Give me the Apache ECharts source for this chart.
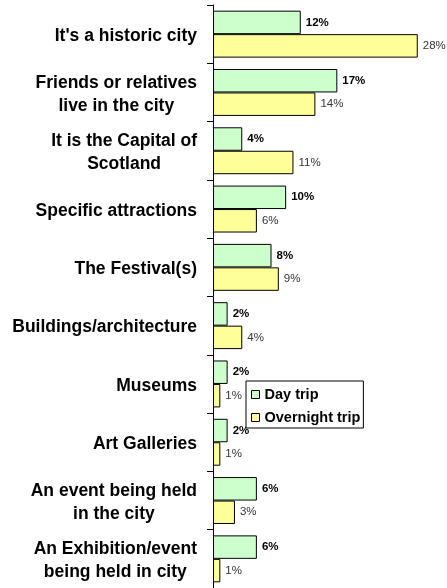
<!DOCTYPE html>
<html>
<head>
<meta charset="utf-8">
<script src="https://cdn.jsdelivr.net/npm/echarts@6/dist/echarts.min.js"></script>
<style>html,body{margin:0;padding:0;background:#fff;}#c{width:447px;height:588px;}</style>
</head>
<body>
<div id="c"></div>
<script>
const categories = [
  "It's a historic city",
  "Friends or relatives\nlive in the city",
  "It is the Capital of\nScotland",
  "Specific attractions",
  "The Festival(s)",
  "Buildings/architecture",
  "Museums",
  "Art Galleries",
  "An event being held\nin the city",
  "An Exhibition/event\nbeing held in city"
];
const dayTrip = [12, 17, 4, 10, 8, 2, 2, 2, 6, 6];
const overnightTrip = [28, 14, 11, 6, 9, 4, 1, 1, 3, 1];
const seriesNames = ["Day trip", "Overnight trip"];

const FONT = "'Liberation Sans', Arial, sans-serif";
const chart = echarts.init(document.getElementById('c'), null, {renderer: 'canvas'});
chart.setOption({
  animation: false,
  backgroundColor: '#ffffff',
  grid: {left: 213, top: 5, width: 235, height: 584, containLabel: false},
  xAxis: {
    type: 'value', min: 0, max: 32,
    show: false
  },
  yAxis: {
    type: 'category', data: categories, inverse: true,
    axisLine: {show: true, lineStyle: {color: '#000', width: 1}},
    axisTick: {show: true, inside: false, length: 6, lineStyle: {color: '#000'}},
    axisLabel: {
      margin: 16,
      padding: [4, 0, 0, 0],
      fontFamily: FONT, fontSize: 17.5, fontWeight: 'bold', color: '#000',
      lineHeight: 23,
      formatter: function (v) {
        return v.split('\n').map(function (s) { return '{c|' + s + '}'; }).join('\n');
      },
      rich: {c: {align: 'center', fontFamily: FONT, fontSize: 17.5, fontWeight: 'bold', color: '#000', lineHeight: 23}}
    }
  },
  legend: {
    orient: 'vertical', left: 246, top: 381,
    data: seriesNames,
    backgroundColor: '#fff', borderColor: '#000', borderWidth: 1, borderRadius: 0,
    padding: [6, 3, 3, 5],
    itemWidth: 8, itemHeight: 8, itemGap: 8, itemTextGap: 5,
    icon: 'rect',
    itemStyle: {borderColor: '#000', borderWidth: 1},
    textStyle: {fontFamily: FONT, fontSize: 14.5, fontWeight: 'bold', color: '#000', lineHeight: 15},
    z: 10
  },
  series: [
    {
      name: seriesNames[0], type: 'bar', data: dayTrip,
      barGap: '0%', barCategoryGap: '19.5%',
      itemStyle: {color: '#CCFFCC', borderColor: '#000', borderWidth: 1},
      label: {show: true, position: 'right', distance: 5, formatter: '{c}%',
        fontFamily: FONT, fontSize: 11.5, fontWeight: 'bold', color: '#000'}
    },
    {
      name: seriesNames[1], type: 'bar', data: overnightTrip,
      barGap: '0%', barCategoryGap: '19.5%',
      itemStyle: {color: '#FFFF99', borderColor: '#000', borderWidth: 1},
      label: {show: true, position: 'right', distance: 5, formatter: '{c}%',
        fontFamily: FONT, fontSize: 11.5, fontWeight: 'normal', color: '#333'}
    }
  ]
});
</script>
</body>
</html>
